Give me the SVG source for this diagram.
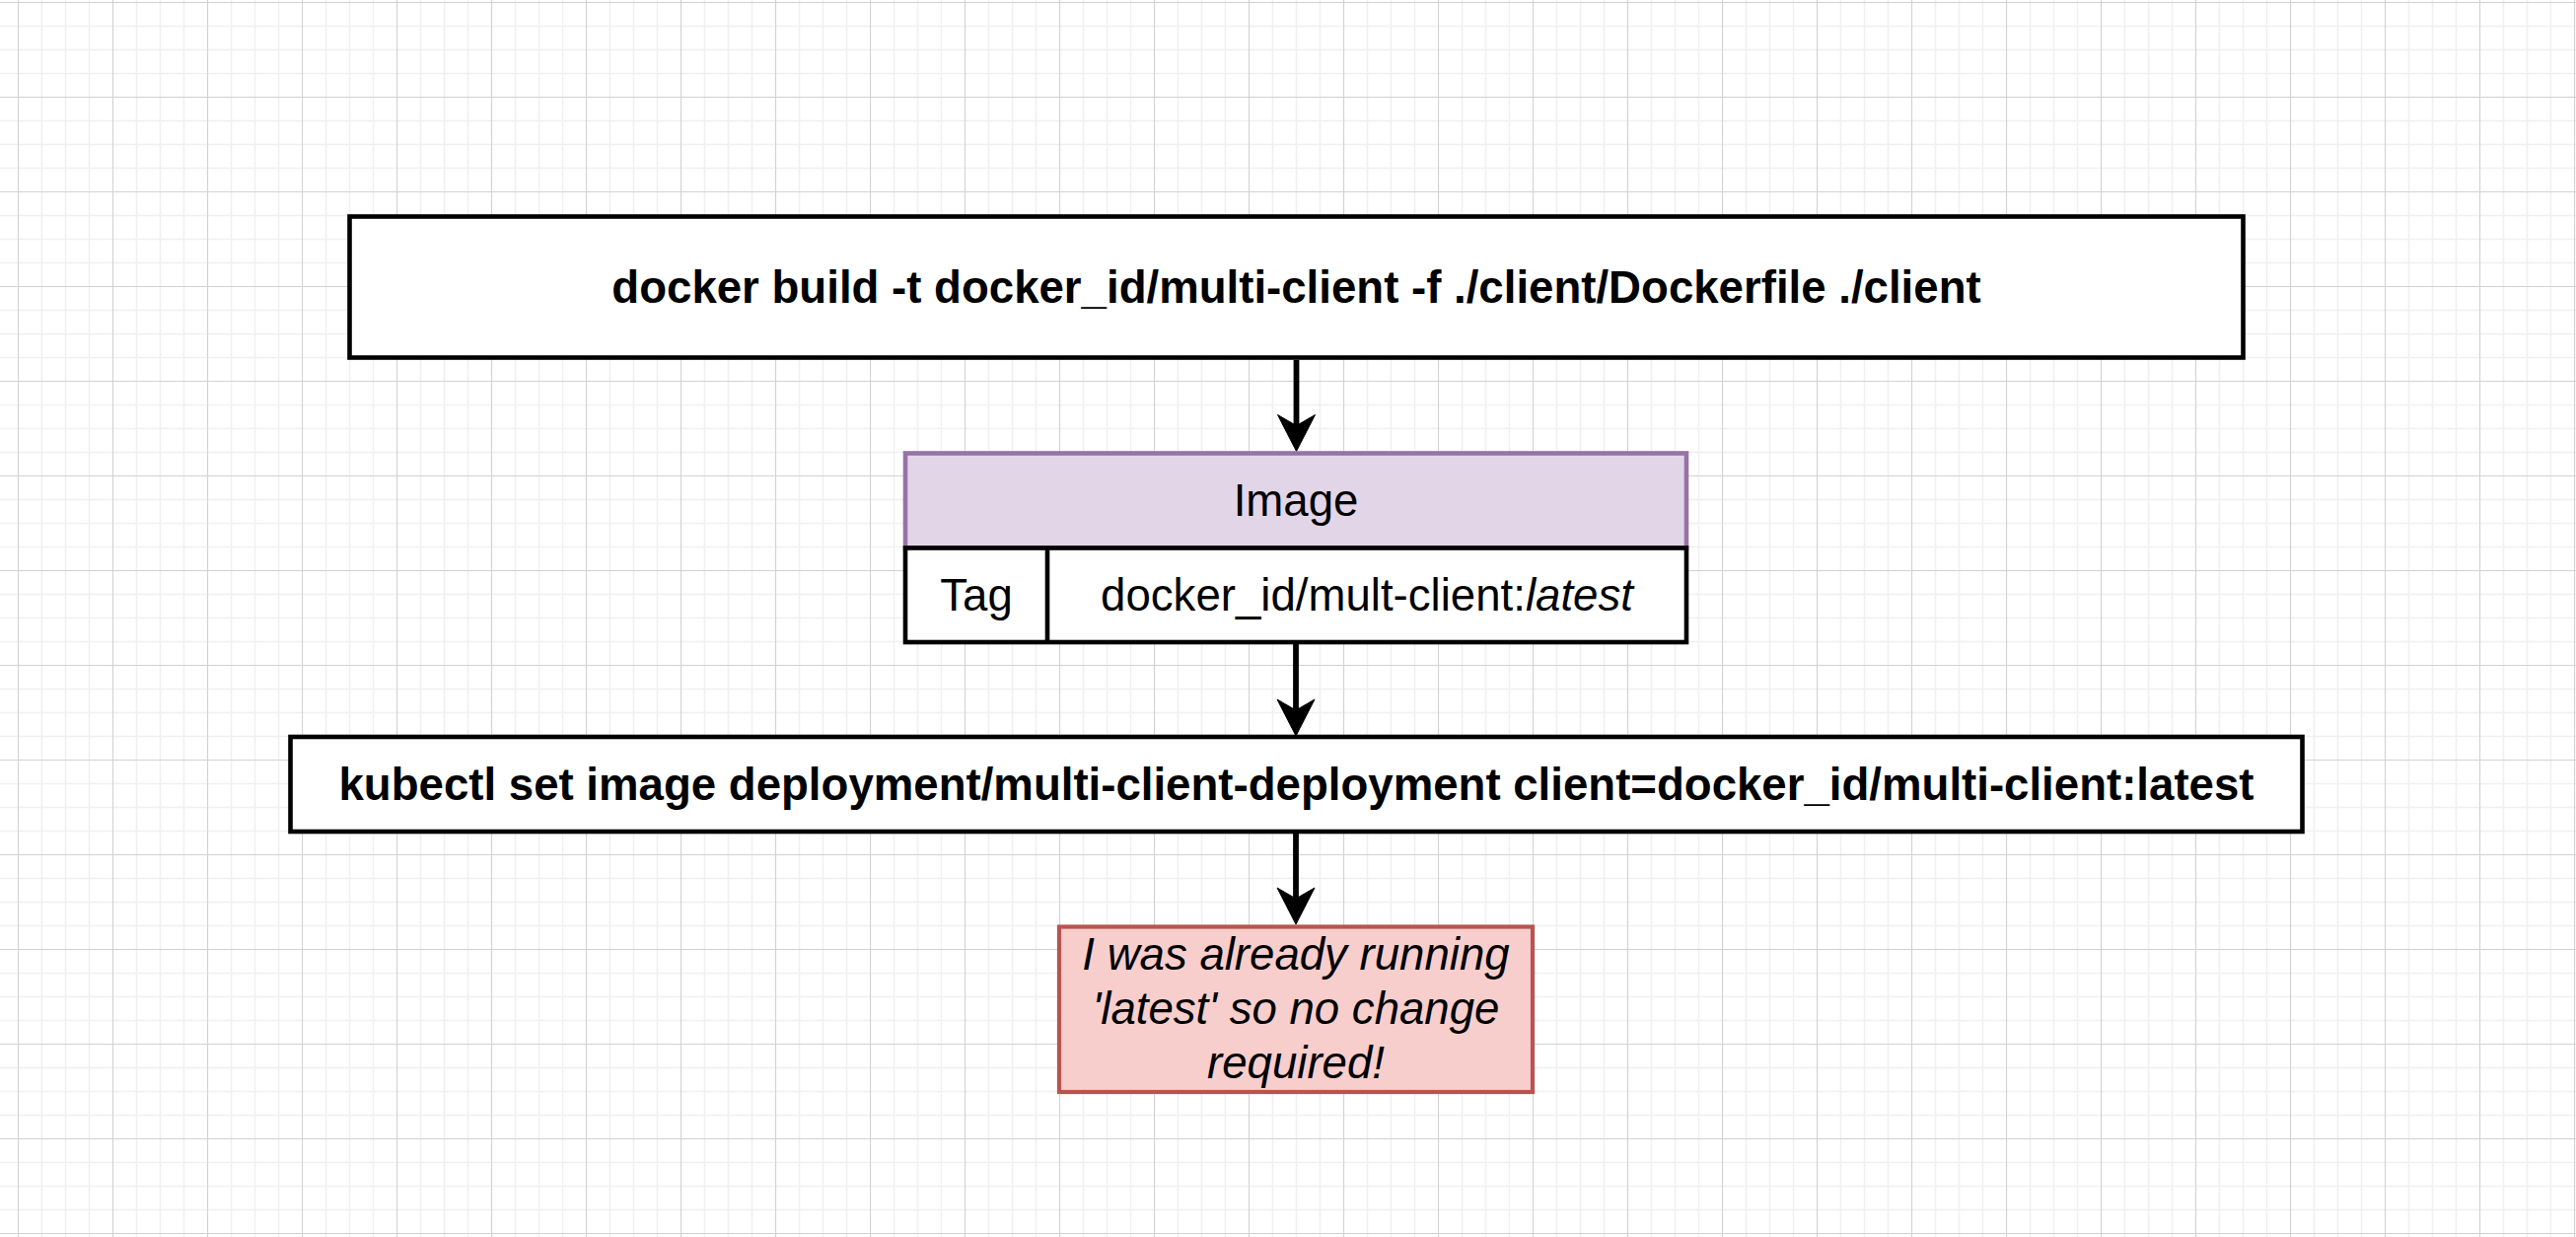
<svg xmlns="http://www.w3.org/2000/svg" xmlns:xlink="http://www.w3.org/1999/xlink" width="2612" height="1254" viewBox="0 0 2612 1254">
  <style>
    text { font-family: "Liberation Sans", Arial, Helvetica, sans-serif; font-size: 45.6px; fill: #000000; text-anchor: middle; }
    .bold { font-weight: bold; }
    .ital { font-style: italic; }
    .box { fill: #ffffff; stroke: #000000; stroke-width: 4.6; }
    .hdr { fill: #e1d5e7; stroke: #9673a6; stroke-width: 4.6; }
    .note { fill: #f8cecc; stroke: #b85450; stroke-width: 4.2; }
    .edge { fill: none; stroke: #000000; stroke-width: 5.8; }
    .head { fill: #000000; stroke: #000000; stroke-width: 1; stroke-linejoin: miter; }
  </style>
  <defs>
    <pattern id="grid" x="18" y="2" width="96" height="96" patternUnits="userSpaceOnUse">
      <path d="M24.5 0V96M48.5 0V96M72.5 0V96M0 24.5H96M0 48.5H96M0 72.5H96" stroke="#f0f0f0" stroke-width="1.5" fill="none"/>
      <path d="M0.5 0V96M0 0.5H96" stroke="#d2d2d2" stroke-width="1.2" fill="none"/>
    </pattern>
    <path id="head" class="head" d="M0,0 L-19,-37 L0,-26 L19,-37 Z"/>
  </defs>
  <rect x="0" y="0" width="2612" height="1254" fill="#ffffff"/>
  <rect x="0" y="0" width="2612" height="1254" fill="url(#grid)"/>

  <g id="connectors">
    <path class="edge" d="M1314.5 365 V432"/>
    <use xlink:href="#head" href="#head" x="1314.5" y="457.5"/>
    <path class="edge" d="M1314 653 V720"/>
    <use xlink:href="#head" href="#head" x="1314" y="746"/>
    <path class="edge" d="M1314 845 V912"/>
    <use xlink:href="#head" href="#head" x="1314" y="937"/>
  </g>

  <g id="docker-build">
    <rect class="box" x="354.5" y="219.5" width="1920" height="143"/>
    <text class="bold" x="1314.5" y="307">docker build -t docker_id/multi-client -f ./client/Dockerfile ./client</text>
  </g>

  <g id="image">
    <rect class="hdr" x="918" y="459.5" width="792" height="96"/>
    <text x="1314" y="522.5">Image</text>
    <rect class="box" x="918" y="555.5" width="792" height="95.5"/>
    <line x1="1062" y1="555.5" x2="1062" y2="651" stroke="#000000" stroke-width="4.6"/>
    <text x="990" y="619">Tag</text>
    <text x="1386" y="619">docker_id/mult-client:<tspan class="ital">latest</tspan></text>
  </g>

  <g id="kubectl">
    <rect class="box" x="294.5" y="747" width="2040" height="96"/>
    <text class="bold" x="1314.5" y="811">kubectl set image deployment/multi-client-deployment client=docker_id/multi-client:latest</text>
  </g>

  <g id="note">
    <rect class="note" x="1074" y="939.5" width="480" height="167.5"/>
    <text class="ital" x="1314" y="983">I was already running</text>
    <text class="ital" x="1314" y="1038">'latest' so no change</text>
    <text class="ital" x="1314" y="1093">required!</text>
  </g>
</svg>
